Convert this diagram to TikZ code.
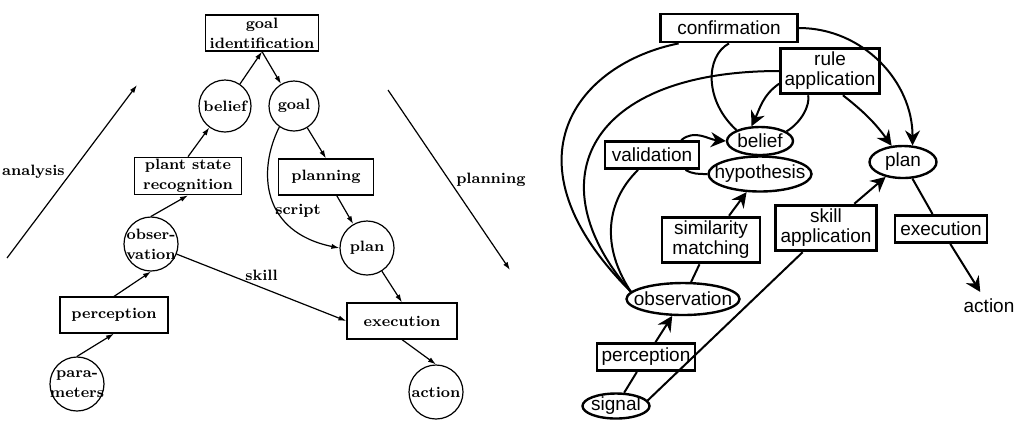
\documentclass[tikz,border=0pt]{standalone}
\usepackage{fontspec}
\newfontfamily\helvfont{Liberation Sans}
\usetikzlibrary{arrows.meta,shapes.geometric}

\tikzset{
    lfont/.style={font=\fontsize{7.5}{10}\selectfont\bfseries},
    lbox/.style={draw, line width=0.6pt, lfont, align=center, inner xsep=2pt, inner ysep=1pt, minimum height=18pt},
    lcirc/.style={draw, circle, line width=0.6pt, lfont, align=center, inner sep=-5pt, minimum size=27pt},
    larr/.style={-{Latex[length=4pt,width=2.6pt]}, line width=0.6pt},
    rfont/.style={font=\helvfont\fontsize{9.5}{10}\selectfont},
    rbox/.style={draw, line width=1.4pt, rfont, align=center, inner xsep=2pt, inner ysep=2pt, minimum height=13.5pt},
    rell/.style={draw, ellipse, line width=1.2pt, rfont, inner xsep=-20pt, inner ysep=-10pt},
    rline/.style={line width=1pt},
    rarr/.style={rline, -{Stealth[length=7.5pt,width=7.5pt,inset=2.5pt]}}
}

\begin{document}
\begin{tikzpicture}[x=0.5pt, y=0.5pt]
        \useasboundingbox (0,0) rectangle (1015,-420);
        % left diagram
        \node[lbox, minimum width=53.5pt] (goalid) at (262,-33) {goal\\identification};
        \node[lcirc, minimum size=26pt] (belief) at (225,-106) {belief};
        \node[lcirc, minimum size=25pt] (goal) at (294,-106) {goal};
        \node[lbox, minimum width=53.5pt] (psr) at (188,-176) {plant state\\recognition};
        \node[lbox, minimum width=47.5pt] (planning) at (326,-177) {planning};
        \node[lcirc] (obs) at (151,-244) {obser-\\vation};
        \node[lcirc] (plan) at (367,-248) {plan};
        \node[lbox, minimum width=54pt] (percep) at (114,-315) {perception};
        \node[lbox, minimum width=55pt] (exec) at (402,-321) {execution};
        \node[lcirc] (params) at (77,-384) {para-\\meters};
        \node[lcirc] (action) at (436,-392) {action};
        \node[lfont] (scriptlbl) at (298,-211) {script};
        \coordinate (anafrom) at (7,-258);
        \coordinate (anato) at (137,-85);
        \coordinate (planfrom) at (388,-90);
        \coordinate (planto) at (510,-270);

        \draw[larr] (belief) -- (goalid.south);
        \draw[larr] (goalid.south) -- (goal);
        \draw[larr] (psr.north) -- (belief);
        \draw[larr] (obs.north) -- (psr.south);
        \draw[larr] (percep.north) -- (obs.south);
        \draw[larr] (params.north) -- (percep.south);
        \draw[larr] (goal) -- (planning.north);
        \draw[larr] (planning) -- (plan);
        \draw[larr] (plan) -- (exec.north);
        \draw[larr] (exec.south) -- (action.north);
        \draw[larr] (obs) -- node[midway, above, lfont] {skill} (exec.west);
        \draw[larr] (goal.235) .. controls +(-22,-44) and +(-78,16) .. (plan.west);
        \draw[larr] (anafrom) -- node[midway, left, lfont] {analysis} (anato);
        \draw[larr] (planfrom) -- node[midway, right, lfont] {planning} (planto);

        % right diagram
        \node[rbox, minimum width=68.5pt, minimum height=14pt] (conf) at (729,-28) {confirmation};
        \node[rbox, minimum width=49.5pt] (ruleapp) at (830,-71) {rule\\application};
        \node[rell, minimum width=33pt, minimum height=14pt] (rbelief) at (760,-141) {belief};
        \node[rbox, minimum width=47pt] (valid) at (652,-155) {validation};
        \node[rell, minimum width=51.5pt, minimum height=17.5pt] (hypo) at (760,-174) {hypothesis};
        \node[rell, minimum width=33.5pt, minimum height=16pt] (rplan) at (903,-162) {plan};
        \node[rbox, minimum width=49pt] (simmatch) at (711,-240) {similarity\\matching};
        \node[rbox, minimum width=50.5pt] (skillapp) at (826,-228) {skill\\application};
        \node[rbox, minimum width=46pt] (rexec) at (941,-229) {execution};
        \node[rfont] (raction) at (989,-306) {action};
        \node[rell, minimum width=56.5pt, minimum height=16pt] (robs) at (683,-299) {observation};
        \node[rbox, minimum width=49pt] (rpercep) at (646,-357) {perception};
        \node[rell, minimum width=33.5pt, minimum height=12.5pt] (signal) at (616,-406) {signal};
        \coordinate (obsleft) at (robs.172);

        \draw[rline] (signal) -- (rpercep);
        \draw[rarr] (rpercep) -- (robs);
        \draw[rline] (robs) -- (simmatch);
        \draw[rarr] (simmatch) -- (hypo);
        \draw[rline] (hypo.west) to[out=180, in=-30] (valid.-24);
        \draw[rarr] (valid.27) to[out=40, in=175] (rbelief.west);
        \draw[rline] (obsleft) .. controls +(-34,52) and +(-27,-26) .. (valid.227);
        \draw[rline] (obsleft) .. controls +(-97,112) and +(-190,0) .. (ruleapp.west);
        \draw[rline] (obsleft) .. controls +(-132,132) and +(-100,-20) .. (conf.197);
        \draw[rline] (rbelief.155) .. controls +(-32,29) and +(-24,-13) .. (conf.south);
        \draw[rline] (rbelief.20) .. controls +(15,9) and +(2,-10) .. (ruleapp.228);
        \draw[rarr] (ruleapp.194) to[out=215, in=65] (rbelief.120);
        \draw[rarr] (ruleapp.-62) to[bend left=8] (rplan.125);
        \draw[rarr] (conf.east) to[out=0, in=90] (rplan.60);
        \draw[rline] (signal.10) -- (skillapp.226);
        \draw[rarr] (skillapp) -- (rplan);
        \draw[rline] (rplan) -- (rexec);
        \draw[rarr] (rexec) -- (raction);
\end{tikzpicture}
\end{document}
